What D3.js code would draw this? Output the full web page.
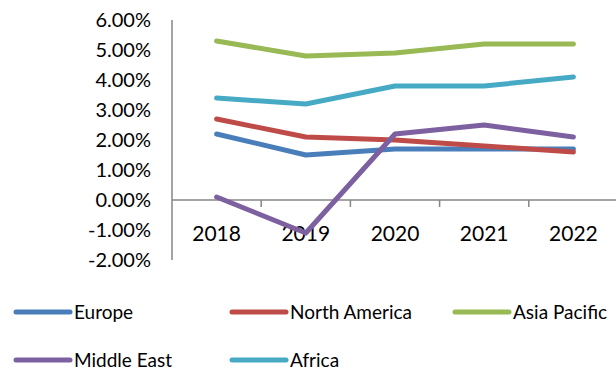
<!DOCTYPE html>
<html>
<head>
<meta charset="utf-8">
<script src="https://cdn.jsdelivr.net/npm/d3@7"></script>
<style>
  html, body { margin: 0; padding: 0; background: #ffffff; }
  svg { display: block; font-family: Lato, "Open Sans", sans-serif; }
</style>
</head>
<body>
<svg id="chart" width="616" height="372"></svg>
<script>
// Annual growth rates by region (fractions)
const years = ["2018", "2019", "2020", "2021", "2022"];
const seriesNames = ["Europe", "North America", "Asia Pacific", "Middle East", "Africa"];
const europe       = [0.022, 0.015, 0.017, 0.017, 0.017];
const northAmerica = [0.027, 0.021, 0.020, 0.018, 0.016];
const asiaPacific  = [0.053, 0.048, 0.049, 0.052, 0.052];
const middleEast   = [0.001, -0.011, 0.022, 0.025, 0.021];
const africa       = [0.034, 0.032, 0.038, 0.038, 0.041];
const yTicks = [-0.02, -0.01, 0, 0.01, 0.02, 0.03, 0.04, 0.05, 0.06];
const colors = ["#4A7EBB", "#BE4B48", "#98B954", "#7D60A0", "#46AAC5"];

const seriesValues = [europe, northAmerica, asiaPacific, middleEast, africa];
const series = seriesNames.map((name, i) => ({
  name, color: colors[i],
  points: years.map((yr, j) => ({ year: yr, value: seriesValues[i][j] }))
}));

const svg = d3.select("#chart");
const axisColor = "#868686";

const x = d3.scaleBand().domain(years).range([172, 618]);
const y = d3.scaleLinear().domain([-0.02, 0.06]).range([260, 20]);
// Plain hyphen for negatives
const locale = d3.formatLocale({ decimal: ".", thousands: ",", grouping: [3], currency: ["$", ""], minus: "-" });
const fmt = locale.format(".2%");

// Vertical axis line
svg.append("line")
  .attr("x1", x.range()[0]).attr("x2", x.range()[0])
  .attr("y1", y(0.06)).attr("y2", y(-0.02))
  .attr("stroke", axisColor).attr("stroke-width", 1.5);

// Y tick labels
svg.append("g").selectAll("text").data(yTicks).join("text")
  .attr("x", 151)
  .attr("y", d => y(d))
  .attr("dy", "0.36em")
  .attr("text-anchor", "end")
  .attr("font-size", 20)
  .attr("fill", "#000")
  .text(d => fmt(d));

// Horizontal category axis along zero
svg.append("line")
  .attr("x1", x.range()[0]).attr("x2", 616)
  .attr("y1", y(0)).attr("y2", y(0))
  .attr("stroke", axisColor).attr("stroke-width", 1.5);

// Tick marks between categories
svg.append("g").selectAll("line").data(years.slice(1)).join("line")
  .attr("x1", d => x(d)).attr("x2", d => x(d))
  .attr("y1", y(0)).attr("y2", y(0) + 7)
  .attr("stroke", axisColor).attr("stroke-width", 1.5);

// Category labels
svg.append("g").selectAll("text").data(years).join("text")
  .attr("x", d => x(d) + x.bandwidth() / 2)
  .attr("y", 241)
  .attr("text-anchor", "middle")
  .attr("font-size", 21)
  .attr("fill", "#000")
  .text(d => d);

// Series lines
const line = d3.line()
  .x(d => x(d.year) + x.bandwidth() / 2)
  .y(d => y(d.value));

svg.append("g").selectAll("path").data(series).join("path")
  .attr("d", d => line(d.points))
  .attr("fill", "none")
  .attr("stroke", d => d.color)
  .attr("stroke-width", 5)
  .attr("stroke-linejoin", "round")
  .attr("stroke-linecap", "round");

// Legend: two rows, three columns
const legendCols = [16, 232, 455];
const legendRows = [312, 360];
const legend = svg.append("g").selectAll("g").data(series).join("g")
  .attr("transform", (d, i) => `translate(${legendCols[i % 3]},${legendRows[Math.floor(i / 3)]})`);
legend.append("line")
  .attr("x1", 0).attr("x2", 54)
  .attr("y1", 0).attr("y2", 0)
  .attr("stroke", d => d.color)
  .attr("stroke-width", 5)
  .attr("stroke-linecap", "round");
legend.append("text")
  .attr("x", 58)
  .attr("y", 0)
  .attr("dy", "0.36em")
  .attr("font-size", 19)
  .attr("fill", "#000")
  .text(d => d.name);
</script>
</body>
</html>
